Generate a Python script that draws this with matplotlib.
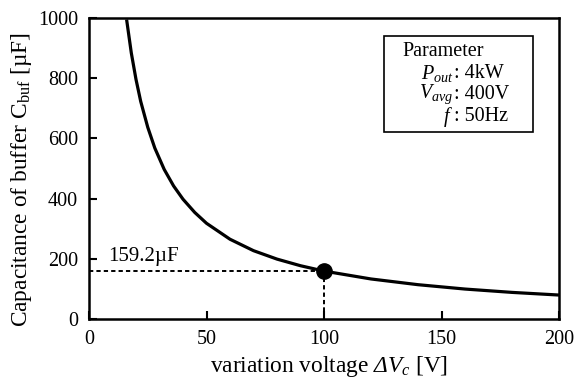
import numpy as np
import matplotlib
matplotlib.use("Agg")
import matplotlib.pyplot as plt
from matplotlib.patches import Rectangle

plt.rcParams['font.family'] = ['Liberation Serif', 'DejaVu Serif']
plt.rcParams['mathtext.fontset'] = 'custom'
plt.rcParams['mathtext.rm'] = 'Liberation Serif'
plt.rcParams['mathtext.it'] = 'Liberation Serif:italic'
plt.rcParams['mathtext.sf'] = 'Liberation Serif:italic'  # italic capital Greek

# buffer capacitance vs. allowed voltage ripple
dv = [16, 18, 20, 22, 25, 28, 32, 36, 40, 45, 50, 60, 70, 80, 90,
      100, 120, 140, 160, 180, 200]
cbuf = [995, 884, 796, 723, 637, 568, 497, 442, 398, 354, 318, 265, 227,
        199, 177, 159.2, 133, 114, 99.5, 88.4, 79.6]

op_dv = 100
op_c = 159.2

xticks = [0, 50, 100, 150, 200]
yticks = [0, 200, 400, 600, 800, 1000]

params = [(r'$P_{out}$', '4kW'), (r'$V_{avg}$', '400V'), (r'$f$', '50Hz')]

fs_tick = 14.5
fs_label = 16.8

fig = plt.figure(figsize=(5.74, 3.78), dpi=100)
ax = fig.add_axes([89/574, 1-319/378, 470/574, 301/378])

ax.plot(dv, cbuf, color='black', lw=2.3, solid_capstyle='butt', zorder=3)
ax.plot([0, op_dv], [op_c, op_c], color='black', lw=1.4, ls=(0, (2.2, 1.6)))
ax.plot([op_dv, op_dv], [0, op_c], color='black', lw=1.4, ls=(0, (2.2, 1.6)))
ax.plot(op_dv, op_c, 'o', color='black', ms=11, zorder=4)
ax.text(8, op_c + 16, f'{op_c}\u00b5F', fontsize=15, ha='left', va='bottom')

ax.set_xlim(0, 200)
ax.set_ylim(0, 1000)
ax.set_xticks(xticks)
ax.set_yticks(yticks)
ax.tick_params(direction='in', length=6, width=1.5, labelsize=fs_tick, pad=8)
for s in ax.spines.values():
    s.set_linewidth(1.8)

ax.set_xlabel(r'variation voltage $\mathsf{Δ}\mathit{V_c}$ [V]', fontsize=fs_label)
ax.set_ylabel(r'Capacitance of buffer C$_{\mathrm{buf}}$ [µF]', fontsize=fs_label)
ax.xaxis.set_label_coords(0.51, -0.115)
ax.yaxis.set_label_coords(-0.117, 0.462)

# parameter box
ax.add_patch(Rectangle((0.628, 0.621), 0.317, 0.319, transform=ax.transAxes,
                       fill=False, lw=1.2, ec='black', zorder=5))
ax.text(0.666, 0.890, 'Parameter', transform=ax.transAxes, fontsize=fs_tick,
        va='center', ha='left')
rows_y = [0.817, 0.747, 0.672]
for (name, val), y in zip(params, rows_y):
    ax.text(0.775, y, name, transform=ax.transAxes, fontsize=fs_tick,
            va='center', ha='right')
    ax.text(0.777, y, ': ' + val, transform=ax.transAxes, fontsize=fs_tick,
            va='center', ha='left')

fig.savefig('out.png', dpi=100)
